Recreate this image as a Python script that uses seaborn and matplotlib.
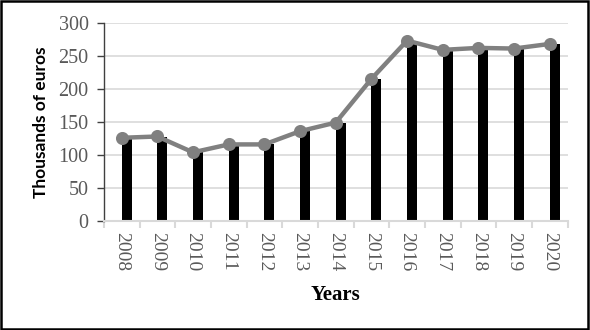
import matplotlib
matplotlib.use("Agg")
import matplotlib.pyplot as plt
import seaborn as sns
import pandas as pd
from matplotlib.patches import Rectangle

years = ["2008", "2009", "2010", "2011", "2012", "2013", "2014",
         "2015", "2016", "2017", "2018", "2019", "2020"]
bar_values = [126, 127, 104, 116, 116, 136, 149, 215, 271, 259, 262, 261, 268]
line_values = [126, 128, 104, 116, 116, 136, 149, 215, 273, 259, 262, 261, 268]

sns.set_theme(style="white")

bars = pd.DataFrame({
    "year": years * 2,
    "value": [0] * len(years) + bar_values,
    "series": ["blank"] * len(years) + ["value"] * len(years),
})
line = pd.DataFrame({"year": years, "value": line_values})

fig = plt.figure(figsize=(5.9, 3.3), dpi=100)
ax = fig.add_axes([0.176, 0.330, 0.786, 0.601])

sns.barplot(data=bars, x="year", y="value", hue="series",
            hue_order=["blank", "value"], order=years,
            palette={"blank": "white", "value": "black"},
            width=0.56, dodge=True, linewidth=0, legend=False, ax=ax,
            zorder=2)
sns.pointplot(data=line, x="year", y="value", order=years, color="#808080",
              markers="o", markersize=7, linewidth=3.2, ax=ax, zorder=3)

ax.set_xlim(-0.5, len(years) - 0.5)
ax.set_ylim(0, 300)
ax.set_yticks(range(0, 301, 50))
ax.yaxis.grid(True, color="#d9d9d9", linewidth=1.2, zorder=0)
ax.set_axisbelow(True)

for s in ["top", "right"]:
    ax.spines[s].set_visible(False)
ax.spines["left"].set_color("#404040")
ax.spines["left"].set_linewidth(1.0)
ax.spines["bottom"].set_color("#d9d9d9")
ax.spines["bottom"].set_linewidth(1.5)

ax.set_xticks(range(len(years)))
ax.set_xticklabels(years, rotation=-90)
ax.set_xticks([i - 0.5 for i in range(len(years) + 1)], minor=True)
ax.tick_params(axis="x", which="major", length=0, pad=8)
ax.tick_params(axis="x", which="minor", length=5, width=1.5, color="#d9d9d9",
               direction="out", bottom=True)
ax.tick_params(axis="y", length=5, width=1.0, color="#404040",
               direction="out", left=True, pad=6)

for lbl in ax.get_xticklabels():
    lbl.set_family("Liberation Serif")
    lbl.set_fontsize(14)
    lbl.set_color("#595959")
for lbl in ax.get_yticklabels():
    lbl.set_family("Liberation Serif")
    lbl.set_fontsize(14.5)
    lbl.set_color("#595959")

ax.set_xlabel("Years", family="Liberation Serif", fontweight="bold",
              fontsize=15, color="black", labelpad=10)
ax.set_ylabel("Thousands of euros", family="Lato", fontweight="bold",
              fontsize=12.5, color="black", labelpad=7)

fig.patches.append(Rectangle((0.002, 0.004), 0.994, 0.993,
                             transform=fig.transFigure, fill=False,
                             edgecolor="black", linewidth=1.8))

fig.savefig("out.png", dpi=100)
